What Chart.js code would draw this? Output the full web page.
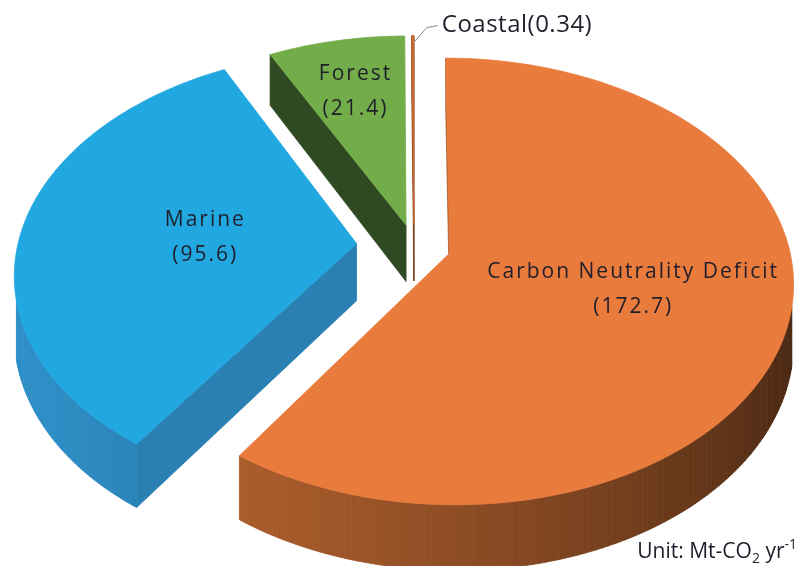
<!DOCTYPE html>
<html>
<head>
<meta charset="utf-8">
<title>Carbon budget</title>
<script src="https://cdn.jsdelivr.net/npm/chart.js@4.4.0/dist/chart.umd.min.js"></script>
<style>
  html, body { margin: 0; padding: 0; background: #fff; }
  #wrap { width: 801px; height: 566px; }
</style>
</head>
<body>
<div id="wrap"><canvas id="pie_chart" width="801" height="566"></canvas></div>
<script>
// slices, clockwise from 12 o'clock
const labels = ['Carbon Neutrality Deficit', 'Marine', 'Forest', 'Coastal'];
const values = [172.7, 95.6, 21.4, 0.34];
const unitText = ['Unit: Mt-CO', '2', ' yr', '-1'];

const topColors = ['#E97B3D', '#22A8E0', '#72AD4A', '#C96A30'];
const sideColors = ['#B8642F', '#2E8FC8', '#4E7A33', '#9A5025'];
const faceColors = ['#B0602E', '#2B80B3', '#2F4A22', '#7A3E18'];

// perspective projection of a point on the pie (unit radius); z <= 0 drops the point straight down
function project(o, u, v, z) {
    var c = Math.cos(o.tilt), s = Math.sin(o.tilt);
    var w = 1 - v * c / o.dist;
    return [o.cx + o.k * u / w, o.cy + o.k * (v * s - z * c) / w];
}

function shade(hex, f) {
    var n = parseInt(hex.slice(1), 16);
    var r = Math.round(((n >> 16) & 255) * f);
    var g = Math.round(((n >> 8) & 255) * f);
    var b = Math.round((n & 255) * f);
    return 'rgb(' + r + ',' + g + ',' + b + ')';
}

function fillPoly(ctx, pts, color) {
    ctx.beginPath();
    ctx.moveTo(pts[0][0], pts[0][1]);
    for (var i = 1; i < pts.length; i++) ctx.lineTo(pts[i][0], pts[i][1]);
    ctx.closePath();
    ctx.fillStyle = color;
    ctx.strokeStyle = color;
    ctx.lineWidth = 0.8;
    ctx.fill();
    ctx.stroke();
}

const pie3d = {
    id: 'pie3d',
    beforeDatasetsDraw(chart, args, opts) {
        var ctx = chart.ctx;
        var arcs = chart.getDatasetMeta(0).data;
        var o = {
            cx: arcs[0].x, cy: arcs[0].y, k: opts.scale,
            tilt: opts.tilt * Math.PI / 180, dist: opts.dist
        };
        var h = opts.depth;
        var cosT = Math.cos(o.tilt), sinT = Math.sin(o.tilt);
        var cam = [0, o.dist * cosT, o.dist * sinT];
        var near = function (v, z) { return v * cosT + z * sinT; };
        var light = [-0.95, 0.3];

        var sides = [];
        var tops = [];

        arcs.forEach(function (arc, i) {
            var a0 = arc.startAngle, a1 = arc.endAngle;
            var m = (a0 + a1) / 2;
            var ex = opts.explode[i] * Math.cos(m), ey = opts.explode[i] * Math.sin(m);
            var steps = Math.max(2, Math.ceil((a1 - a0) / (Math.PI / 180)));
            var rim = [];
            for (var j = 0; j <= steps; j++) {
                var t = a0 + (a1 - a0) * j / steps;
                rim.push([ex + Math.cos(t), ey + Math.sin(t), t]);
            }

            // top face
            var top = [project(o, ex, ey, 0)];
            rim.forEach(function (p) { top.push(project(o, p[0], p[1], 0)); });
            tops.push({ pts: top, color: topColors[i] });

            // outer wall, split into strips
            for (var j = 0; j < steps; j++) {
                var p = rim[j], q = rim[j + 1];
                var tm = (p[2] + q[2]) / 2;
                var nx = Math.cos(tm), ny = Math.sin(tm);
                var mx = (p[0] + q[0]) / 2, my = (p[1] + q[1]) / 2;
                var facing = nx * (cam[0] - mx) + ny * (cam[1] - my);
                if (facing <= 0) continue;
                var dot = nx * light[0] + ny * light[1];
                var f = 0.35 + 0.65 * (dot + 1) / 2;
                sides.push({
                    depth: near(my, -h / 2),
                    color: shade(sideColors[i], f),
                    pts: [project(o, p[0], p[1], 0), project(o, q[0], q[1], 0),
                          project(o, q[0], q[1], -h), project(o, p[0], p[1], -h)]
                });
            }

            // cut faces from the apex to the rim
            [[a0, rim[0], 1], [a1, rim[steps], -1]].forEach(function (e) {
                var a = e[0], p = e[1];
                var nx = e[2] * Math.sin(a), ny = -e[2] * Math.cos(a);
                var mx = (ex + p[0]) / 2, my = (ey + p[1]) / 2;
                if (nx * (cam[0] - mx) + ny * (cam[1] - my) <= 0) return;
                sides.push({
                    depth: near(my, -h / 2),
                    color: faceColors[i],
                    pts: [project(o, ex, ey, 0), project(o, p[0], p[1], 0),
                          project(o, p[0], p[1], -h), project(o, ex, ey, -h)]
                });
            });
        });

        ctx.save();
        sides.sort(function (a, b) { return a.depth - b.depth; });
        sides.forEach(function (s) { fillPoly(ctx, s.pts, s.color); });
        tops.forEach(function (s) { fillPoly(ctx, s.pts, s.color); });

        // slice labels
        ctx.fillStyle = '#1f1f2b';
        ctx.textAlign = 'center';
        ctx.textBaseline = 'middle';
        ctx.font = opts.fontSize + 'px "Open Sans", sans-serif';
        ctx.letterSpacing = opts.letterSpacing + 'px';
        arcs.forEach(function (arc, i) {
            var m = (arc.startAngle + arc.endAngle) / 2;
            var e = opts.explode[i];
            if (opts.labelRadius[i] === null) {
                // thin slice: leader line out to the side
                var r = project(o, (1 + e) * Math.cos(m), (1 + e) * Math.sin(m), 0);
                ctx.beginPath();
                ctx.moveTo(r[0], r[1] + 8);
                ctx.lineTo(r[0] + 14, r[1] - 8);
                ctx.lineTo(r[0] + 25, r[1] - 10);
                ctx.strokeStyle = '#8a8a8a';
                ctx.lineWidth = 1;
                ctx.stroke();
                ctx.textAlign = 'left';
                ctx.font = '24px "Open Sans", sans-serif';
                ctx.letterSpacing = '0.5px';
                ctx.fillText(labels[i] + '(' + values[i] + ')', r[0] + 29, r[1] - 10);
                ctx.textAlign = 'center';
                ctx.font = opts.fontSize + 'px "Open Sans", sans-serif';
                ctx.letterSpacing = opts.letterSpacing + 'px';
                return;
            }
            var lr = opts.labelRadius[i];
            var p = project(o, (lr + e) * Math.cos(m), (lr + e) * Math.sin(m), 0);
            ctx.fillText(labels[i], p[0], p[1] - opts.lineGap / 2);
            ctx.fillText('(' + values[i] + ')', p[0], p[1] + opts.lineGap / 2);
        });

        // unit note with sub- and superscript, right aligned
        ctx.letterSpacing = '0px';
        ctx.textAlign = 'left';
        ctx.textBaseline = 'alphabetic';
        var big = '21px "Open Sans", sans-serif', small = '14px "Open Sans", sans-serif';
        var widths = unitText.map(function (s, i) {
            ctx.font = i % 2 ? small : big;
            return ctx.measureText(s).width;
        });
        var x = 797 - widths.reduce(function (a, b) { return a + b; }, 0), y = 558;
        var shifts = [0, 5, 0, -9];
        unitText.forEach(function (s, i) {
            ctx.font = i % 2 ? small : big;
            ctx.fillText(s, x, y + shifts[i]);
            x += widths[i];
        });
        ctx.restore();
        return false;
    }
};

new Chart(document.getElementById('pie_chart').getContext('2d'), {
    type: 'pie',
    data: {
        labels: labels,
        datasets: [{ data: values, backgroundColor: topColors, borderWidth: 0 }]
    },
    options: {
        responsive: false,
        animation: false,
        layout: { padding: { left: 27, right: 0, top: 0, bottom: 74 } },
        plugins: {
            legend: { display: false },
            tooltip: { enabled: false },
            pie3d: {
                scale: 339, tilt: 40, dist: 6.06, depth: 0.22,
                explode: [0.11, 0.17, 0.1, 0.1],
                labelRadius: [0.55, 0.45, 0.7, null],
                fontSize: 21, letterSpacing: 2, lineGap: 35
            }
        }
    },
    plugins: [pie3d]
});
</script>
</body>
</html>
